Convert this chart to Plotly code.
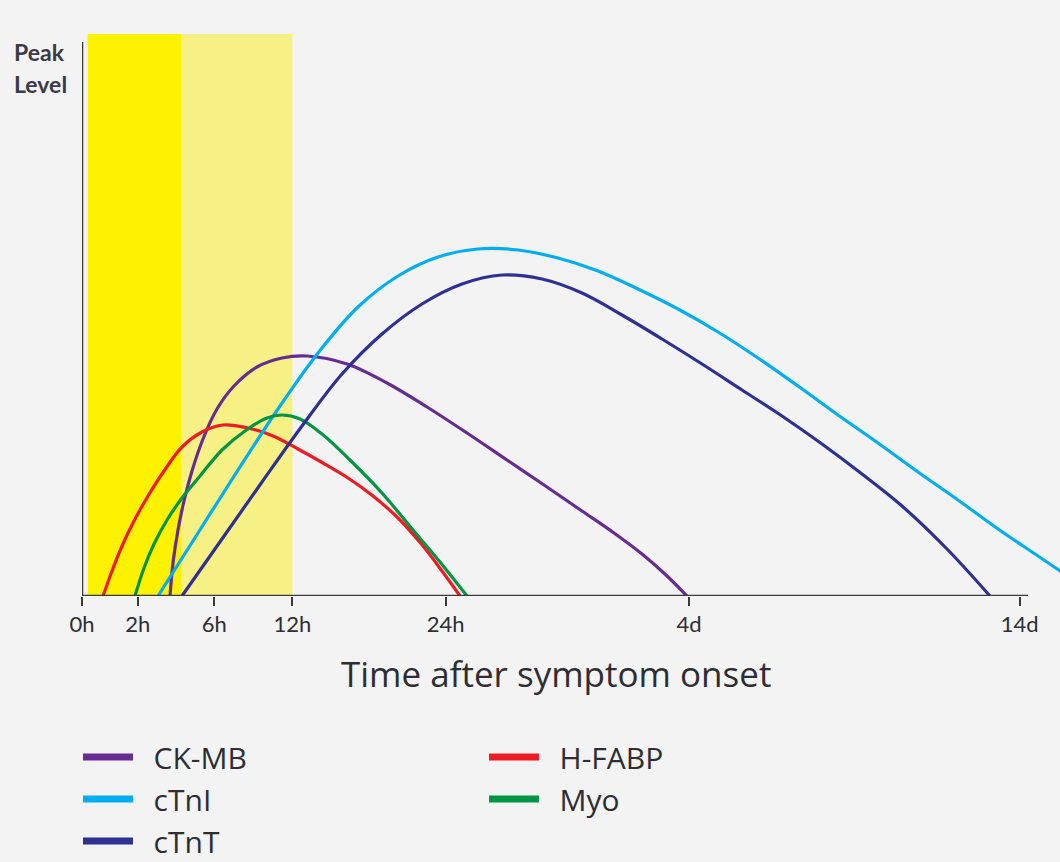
import plotly.graph_objects as go

# ---- data (x: position along the schematic time axis, y: relative level) ----
tick_pos = [0, 55.7, 132.3, 210.3, 363.7, 607, 937.6]
tick_labels = ["0h", "2h", "6h", "12h", "24h", "4d", "14d"]

ckmb_x = [88, 91, 96, 102, 110, 121, 135, 152, 175, 200, 225, 265, 305, 345, 385, 425, 465, 500, 532, 560, 584, 605]
ckmb_y = [0, 33, 66, 95, 125, 157, 187, 210, 229, 238, 240, 232, 213, 189, 163, 136, 109, 85, 63, 42, 21, 0]

ctni_x = [76, 116, 156, 196, 236, 276, 316, 356, 396, 436, 476, 516, 556, 596, 636, 676, 716, 756, 796, 836, 876, 916, 956, 996]
ctni_y = [0, 63, 126, 187, 243, 289, 320, 339, 347, 346, 338, 325, 307, 287, 264, 238, 210, 181, 153, 124, 96, 67, 40, 13]

ctnt_x = [100, 140, 180, 220, 260, 300, 340, 380, 420, 460, 500, 540, 580, 620, 660, 700, 740, 780, 820, 865, 908]
ctnt_y = [0, 57, 114, 170, 222, 262, 292, 312, 321, 317, 303, 281, 257, 232, 206, 180, 152, 122, 90, 47, 0]

hfabp_x = [21, 30, 40, 52, 66, 82, 100, 120, 141, 166, 191, 216, 241, 266, 291, 316, 341, 360, 378]
hfabp_y = [0, 25, 50, 75, 100, 125, 149, 164, 171, 168, 160, 147, 133, 118, 100, 78, 50, 25, 0]

myo_x = [53, 62, 72, 85, 100, 118, 140, 163, 185, 200, 218, 240, 268, 300, 331, 358, 385]
myo_y = [0, 28, 52, 76, 98, 120, 146, 165, 178, 181, 177, 162, 136, 103, 66, 34, 0]

early_window = [5.7, 99.7]
mid_window = [99.7, 210.3]

series = [
    ("CK-MB", ckmb_x, ckmb_y, "#662D91"),
    ("H-FABP", hfabp_x, hfabp_y, "#ED1C24"),
    ("cTnI", ctni_x, ctni_y, "#00AEEF"),
    ("Myo", myo_x, myo_y, "#009444"),
    ("cTnT", ctnt_x, ctnt_y, "#2E3192"),
]

BG = "#f3f3f3"
AX = "#3a3a3a"
TXT = "#2d2d33"
NB = "\u00a0\u00a0"

fig = go.Figure()

for name, xs, ys, col in series:
    fig.add_trace(go.Scatter(
        x=xs, y=ys, mode="lines", name=name,
        line=dict(color=col, width=3.2, shape="spline", smoothing=1.0),
        showlegend=False, hoverinfo="skip",
    ))

for name, xs, ys, col in series:
    fig.add_trace(go.Scatter(
        x=[None], y=[None], mode="lines", name=NB + name,
        line=dict(color=col, width=7),
        showlegend=True,
    ))

# shaded windows
fig.add_shape(type="rect", xref="x", yref="paper", x0=early_window[0], x1=early_window[1],
              y0=0, y1=1, fillcolor="#FFF200", line=dict(width=0), layer="below")
fig.add_shape(type="rect", xref="x", yref="paper", x0=mid_window[0], x1=mid_window[1],
              y0=0, y1=1, fillcolor="#F7F084", line=dict(width=0), layer="below")

# axis lines
fig.add_shape(type="line", xref="x", yref="y", x0=-1, x1=946, y0=0, y1=0,
              line=dict(color=AX, width=2.5), layer="above")
fig.add_shape(type="line", xref="x", yref="y", x0=0, x1=0, y0=0, y1=554,
              line=dict(color=AX, width=2.5), layer="above")

W, H = 1060, 862
L, R, T, B = 82, 0, 34, 266
pw = W - L - R
ph = H - T - B

def px_to_paper_x(px):
    return (px - L) / pw

def px_to_paper_y(py):
    return (H - B - py) / ph

fig.add_annotation(text="Peak", x=px_to_paper_x(12), y=px_to_paper_y(52), xref="paper", yref="paper",
                   xanchor="left", yanchor="middle", showarrow=False,
                   font=dict(family="Lato", size=23, color="#3a3a48", weight="bold"))
fig.add_annotation(text="Level", x=px_to_paper_x(12), y=px_to_paper_y(84), xref="paper", yref="paper",
                   xanchor="left", yanchor="middle", showarrow=False,
                   font=dict(family="Lato", size=23, color="#3a3a48", weight="bold"))
fig.add_annotation(text="Time after symptom onset", x=px_to_paper_x(556), y=px_to_paper_y(673),
                   xref="paper", yref="paper", xanchor="center", yanchor="middle", showarrow=False,
                   font=dict(family="Open Sans", size=35, color=TXT))

fig.update_layout(
    width=W, height=H,
    margin=dict(l=L, r=R, t=T, b=B, pad=0),
    paper_bgcolor=BG, plot_bgcolor=BG,
    xaxis=dict(range=[0, pw], tickvals=tick_pos, ticktext=tick_labels,
               ticks="outside", ticklen=9, tickwidth=2, tickcolor=AX,
               showline=False, showgrid=False, zeroline=False,
               tickfont=dict(family="Lato", size=22, color=TXT),
               ticklabelstandoff=0, fixedrange=True),
    yaxis=dict(range=[0, ph], showticklabels=False, ticks="", showline=False,
               showgrid=False, zeroline=False, fixedrange=True),
    legend=dict(orientation="h", xref="container", yref="container",
                x=78 / W, y=1 - 731 / H, xanchor="left", yanchor="top",
                entrywidth=341, entrywidthmode="pixels", traceorder="normal",
                font=dict(family="Open Sans", size=30, color=TXT),
                bgcolor="rgba(0,0,0,0)", itemwidth=50),
    showlegend=True,
)

fig.write_html("out.html", post_script="document.body.style.margin='0px';",
               config={"displayModeBar": False})
